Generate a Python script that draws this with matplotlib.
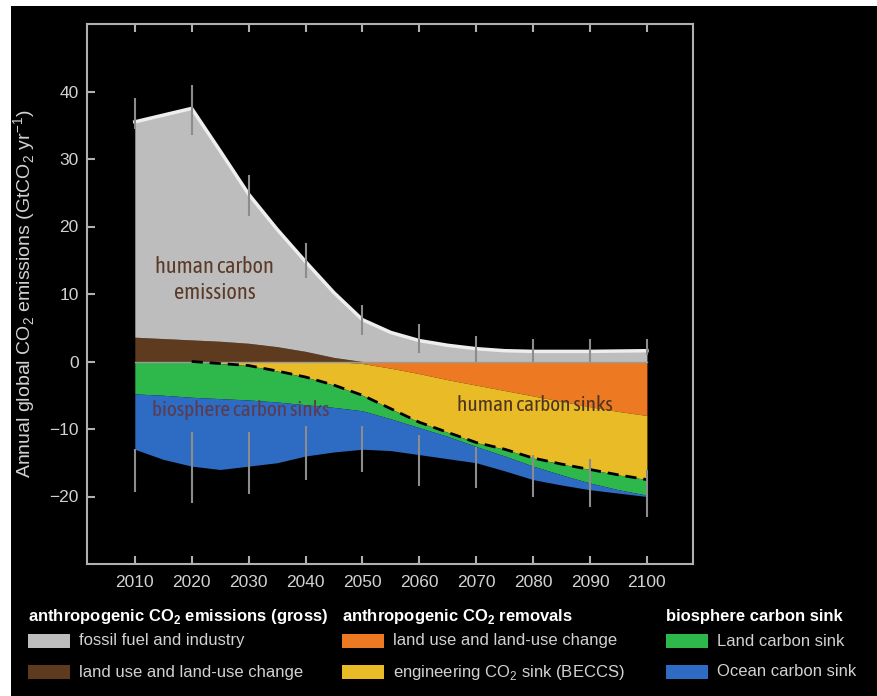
import numpy as np
import matplotlib.pyplot as plt
from matplotlib.patches import Rectangle

plt.rcParams['font.family'] = ['Liberation Sans', 'DejaVu Sans']
plt.rcParams['mathtext.fontset'] = 'custom'
plt.rcParams['mathtext.rm'] = 'Liberation Sans'
plt.rcParams['mathtext.bf'] = 'Liberation Sans:bold'

# years read every 5 yr from the picture
years = [2010, 2015, 2020, 2025, 2030, 2035, 2040, 2045, 2050, 2055,
         2060, 2065, 2070, 2075, 2080, 2085, 2090, 2095, 2100]

# gross emissions (GtCO2/yr), stacked upward
luc_emis = [3.6, 3.4, 3.2, 3.0, 2.7, 2.2, 1.5, 0.6, 0, 0,
            0, 0, 0, 0, 0, 0, 0, 0, 0]
fossil = [31.9, 33.1, 34.3, 28.2, 22.1, 17.4, 13.3, 9.6, 6.2, 4.3,
          3.1, 2.4, 1.9, 1.6, 1.5, 1.5, 1.5, 1.55, 1.6]

# removals and sinks, stacked downward
luc_removal = [0, 0, 0, 0, 0, 0, 0, 0, -0.3, -1.0,
               -1.8, -2.7, -3.5, -4.3, -5.1, -5.9, -6.7, -7.4, -8.0]
beccs = [0, 0, 0, -0.3, -0.6, -1.4, -2.3, -3.5, -4.7, -6.0,
         -7.2, -7.8, -8.5, -8.7, -9.2, -9.3, -9.3, -9.4, -9.5]
land_sink = [-4.8, -5.0, -5.3, -5.2, -5.1, -4.6, -4.1, -3.3, -2.3, -1.5,
             -0.8, -0.6, -0.6, -1.0, -1.2, -1.6, -2.0, -2.2, -2.3]
ocean_sink = [-8.2, -9.5, -10.2, -10.5, -9.8, -9.0, -7.6, -6.6, -5.7, -4.7,
              -4.0, -3.3, -2.4, -2.2, -2.0, -1.5, -1.0, -0.5, -0.2]

# uncertainty bars
bar_years = [2010, 2020, 2030, 2040, 2050, 2060, 2070, 2080, 2090, 2100]
up_lo = [34.5, 33.6, 21.5, 12.3, 4.0, 1.3, 0.0, 0.0, 0.0, 1.0]
up_hi = [39.0, 41.0, 27.7, 17.6, 8.4, 5.5, 3.8, 3.4, 3.4, 3.4]
dn_hi = [-13.0, -10.4, -10.4, -9.6, -9.6, -10.9, -12.6, -13.8, -14.5, -16.0]
dn_lo = [-19.4, -20.9, -19.7, -17.6, -16.4, -18.5, -18.7, -20.0, -21.5, -23.0]

c_gray = '#bdbdbd'
c_brown = '#5e3b1f'
c_orange = '#ed7a23'
c_yellow = '#e9bb27'
c_green = '#2eb84b'
c_blue = '#2e6bc2'
txt = '#d2d2d2'

x = np.array(years)
e1 = np.array(luc_emis)
e2 = e1 + np.array(fossil)
n1 = np.array(luc_removal)
n2 = n1 + np.array(beccs)
n3 = n2 + np.array(land_sink)
n4 = n3 + np.array(ocean_sink)

fig = plt.figure(figsize=(8.77, 6.96), dpi=100)
fig.patch.set_facecolor('white')
fig.patches.append(Rectangle((11 / 877, 0), 1, 1 - 6 / 696, transform=fig.transFigure,
                             facecolor='black', edgecolor='none', zorder=-10))

ax = fig.add_axes([87 / 877, 1 - 564 / 696, 606 / 877, 540 / 696])
ax.set_facecolor('black')

ax.fill_between(x, 0, e1, color=c_brown, lw=0)
ax.fill_between(x, e1, e2, color=c_gray, lw=0)
ax.plot(x, e2, color='#eeeeee', lw=2.5, solid_joinstyle='round')
ax.fill_between(x, 0, n1, color=c_orange, lw=0)
ax.fill_between(x, n1, n2, color=c_yellow, lw=0)
ax.fill_between(x, n2, n3, color=c_green, lw=0)
ax.fill_between(x, n3, n4, color=c_blue, lw=0)
ax.plot([2010, 2100], [0, 0], color='#9a9a9a', lw=1)
ax.plot(x[2:], n2[2:], color='black', lw=2, ls=(0, (4, 2.5)))

ax.vlines(bar_years, up_lo, up_hi, color='#8c8c8c', lw=1.5, zorder=5)
ax.vlines(bar_years, dn_lo, dn_hi, color='#8c8c8c', lw=1.5, zorder=5)

narrow = ['Asap Condensed', 'DejaVu Sans']
ax.text(2024, 12.1, 'human carbon\nemissions', color='#5a3a28', fontsize=16,
        family=narrow, ha='center', va='center', linespacing=1.25)
ax.text(2013, -7.2, 'biosphere carbon sinks', color='#5c3b4e', fontsize=15.3,
        family=narrow, ha='left', va='center')
ax.text(2066.6, -6.4, 'human carbon sinks', color='#4d3420', fontsize=15.3,
        family=narrow, ha='left', va='center')

ax.set_xlim(2001.6, 2108.1)
ax.set_ylim(-30, 50)
ax.set_xticks(bar_years)
ax.set_yticks([-20, -10, 0, 10, 20, 30, 40])
ax.tick_params(axis='x', direction='in', top=True, length=6, width=1.5,
               color='#b0b0b0', labelcolor=txt, labelsize=12.5, pad=8)
ax.tick_params(axis='y', direction='in', length=6, width=1.5,
               color='#b0b0b0', labelcolor=txt, labelsize=12.5, pad=6)
for s in ax.spines.values():
    s.set_color('#b0b0b0')
    s.set_linewidth(1.5)
ax.set_ylabel(r'Annual global CO$_2$ emissions (GtCO$_2$ yr$^{-1}$)',
              color=txt, fontsize=14, labelpad=8)

# legend block drawn by hand
headers = [r'anthropogenic CO$_\mathbf{2}$ emissions (gross)',
           r'anthropogenic CO$_\mathbf{2}$ removals',
           'biosphere carbon sink']
labels = [['fossil fuel and industry', 'land use and land-use change'],
          ['land use and land-use change', r'engineering CO$_2$ sink (BECCS)'],
          ['Land carbon sink', 'Ocean carbon sink']]
colors = [[c_gray, c_brown], [c_orange, c_yellow], [c_green, c_blue]]
col_x = [28, 342, 666]
row_y = [641, 672]
for i in range(3):
    fig.text(col_x[i] / 877, 1 - 616 / 696, headers[i], color='white',
             fontsize=12, fontweight='bold', ha='left', va='center')
    for j in range(2):
        fig.patches.append(Rectangle((col_x[i] / 877, 1 - (row_y[j] + 7) / 696),
                                     42 / 877, 14 / 696, transform=fig.transFigure,
                                     facecolor=colors[i][j], edgecolor='none'))
        fig.text((col_x[i] + 51) / 877, 1 - row_y[j] / 696, labels[i][j],
                 color=txt, fontsize=12, ha='left', va='center')

fig.savefig('out.png', dpi=100, facecolor=fig.get_facecolor())
